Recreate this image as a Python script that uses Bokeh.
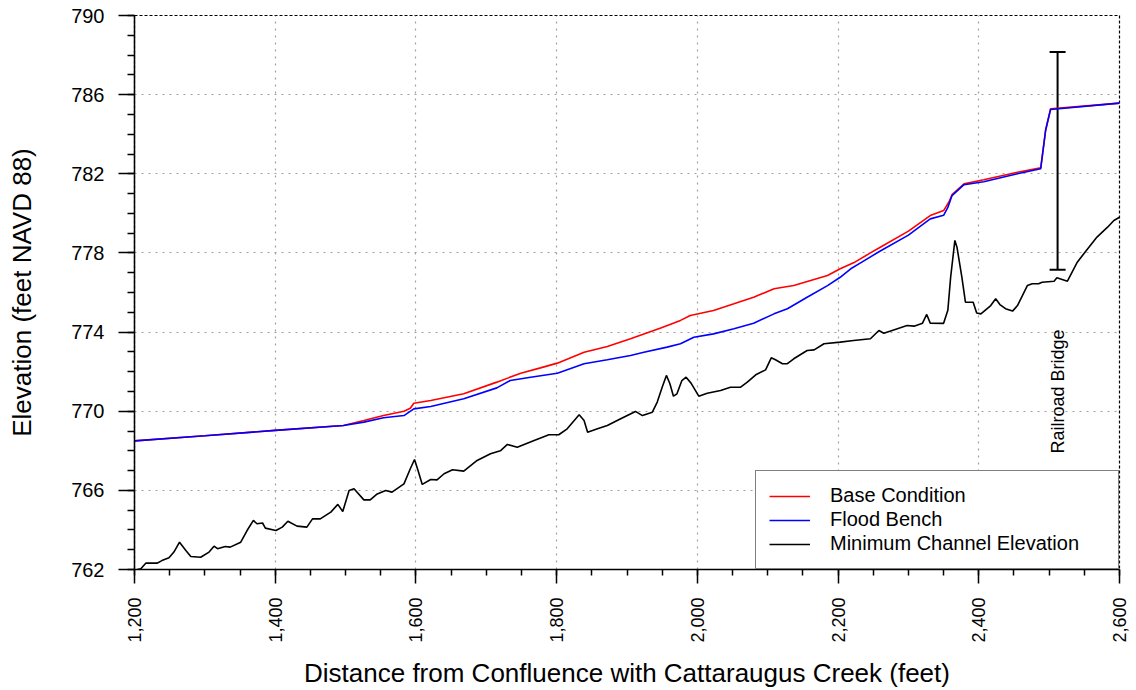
from math import pi

from bokeh.plotting import figure
from bokeh.models import (Range1d, FixedTicker, NumeralTickFormatter, Legend, LegendItem,
                          Whisker, TeeHead, ColumnDataSource)
from bokeh.core.properties import value
from bokeh.embed import file_html
from bokeh.resources import INLINE

# Water-surface profiles (feet from confluence, elevation in feet NAVD 88)
base_x = [1200, 1300, 1400, 1497, 1526, 1554, 1583, 1592, 1597, 1621, 1668, 1715, 1749, 1777,
          1801, 1839, 1872, 1905, 1948, 1976, 1990, 2023, 2052, 2080, 2109, 2137, 2161, 2185,
          2203, 2222, 2246, 2260, 2300, 2331, 2350, 2358, 2362, 2379, 2407, 2455, 2488, 2495,
          2502, 2600]
base_y = [768.50, 768.76, 769.03, 769.28, 769.53, 769.78, 770.00, 770.15, 770.40, 770.54, 770.88,
          771.47, 771.92, 772.19, 772.43, 772.98, 773.27, 773.66, 774.20, 774.59, 774.84, 775.09,
          775.43, 775.76, 776.19, 776.35, 776.61, 776.86, 777.20, 777.50, 778.00, 778.29, 779.10,
          779.89, 780.14, 780.60, 780.95, 781.49, 781.70, 782.08, 782.30, 784.20, 785.28, 785.57]

bench_x = [1200, 1300, 1400, 1497, 1526, 1554, 1583, 1597, 1621, 1668, 1715, 1734, 1763, 1801,
           1839, 1872, 1905, 1924, 1957, 1976, 1995, 2023, 2052, 2080, 2109, 2128, 2156, 2185,
           2203, 2218, 2232, 2260, 2300, 2331, 2350, 2356, 2362, 2379, 2407, 2455, 2488, 2495,
           2502, 2600]
bench_y = [768.50, 768.76, 769.03, 769.28, 769.45, 769.67, 769.78, 770.12, 770.24, 770.63, 771.18,
           771.55, 771.72, 771.92, 772.40, 772.60, 772.82, 772.98, 773.24, 773.41, 773.74, 773.91,
           774.17, 774.45, 774.92, 775.18, 775.76, 776.35, 776.77, 777.20, 777.50, 778.10, 778.90,
           779.72, 779.90, 780.30, 780.90, 781.45, 781.60, 782.00, 782.25, 784.20, 785.25, 785.57]

# Thalweg (minimum channel elevation)
channel_x = [1204, 1209, 1216, 1232, 1239, 1249, 1256, 1264, 1273, 1280, 1294, 1306, 1313, 1318,
             1329, 1336, 1351, 1360, 1369, 1374, 1382, 1386, 1401, 1410, 1418, 1431, 1445, 1453,
             1464, 1479, 1489, 1496, 1505, 1512, 1526, 1535, 1545, 1557, 1566, 1583, 1592, 1598,
             1603, 1609, 1621, 1630, 1640, 1652, 1668, 1687, 1706, 1720, 1730, 1744, 1768, 1789,
             1803, 1815, 1832, 1839, 1844, 1858, 1872, 1891, 1912, 1922, 1936, 1943, 1950, 1956,
             1961, 1966, 1971, 1978, 1984, 1991, 2002, 2014, 2033, 2047, 2061, 2071, 2083, 2097,
             2105, 2111, 2121, 2128, 2137, 2156, 2166, 2180, 2203, 2222, 2246, 2258, 2265, 2279,
             2298, 2308, 2320, 2326, 2331, 2350, 2356, 2360, 2366, 2369, 2376, 2381, 2392, 2397,
             2403, 2417, 2424, 2430, 2438, 2448, 2455, 2469, 2476, 2485, 2490, 2507, 2511, 2526,
             2540, 2549, 2568, 2583, 2592, 2600]
channel_y = [762.00, 762.04, 762.32, 762.32, 762.45, 762.59, 762.88, 763.38, 762.96, 762.66, 762.62,
             762.88, 763.18, 763.05, 763.16, 763.13, 763.38, 763.97, 764.48, 764.31, 764.35, 764.09,
             763.97, 764.14, 764.44, 764.19, 764.14, 764.56, 764.56, 764.90, 765.29, 764.93, 765.99,
             766.08, 765.52, 765.52, 765.82, 765.99, 765.91, 766.33, 767.09, 767.56, 767.00, 766.30,
             766.55, 766.53, 766.84, 767.04, 766.97, 767.51, 767.85, 768.00, 768.32, 768.18, 768.52,
             768.81, 768.81, 769.11, 769.82, 769.53, 768.94, 769.11, 769.28, 769.62, 769.99, 769.78,
             769.95, 770.46, 771.21, 771.81, 771.39, 770.76, 770.88, 771.55, 771.72, 771.42, 770.76,
             770.91, 771.05, 771.21, 771.21, 771.47, 771.84, 772.09, 772.70, 772.60, 772.40, 772.40,
             772.65, 773.07, 773.10, 773.41, 773.49, 773.57, 773.66, 774.08, 773.94, 774.11, 774.33,
             774.30, 774.45, 774.89, 774.45, 774.44, 775.10, 776.77, 778.63, 778.29, 776.77, 775.51,
             775.51, 774.96, 774.92, 775.34, 775.68, 775.39, 775.18, 775.06, 775.34, 776.35, 776.44,
             776.44, 776.52, 776.57, 776.74, 776.57, 777.53, 777.95, 778.80, 779.30, 779.64, 779.80]

# Railroad bridge (low chord to top of deck) and its label
bridge_x = [2512]
bridge_low = [777.15]
bridge_high = [788.15]
bridge_label_y = [771.0]
bridge_label = ["Railroad Bridge"]

y_major = [762, 766, 770, 774, 778, 782, 786, 790]
y_minor = list(range(762, 791))
x_major = [1200, 1400, 1600, 1800, 2000, 2200, 2400, 2600]
x_minor = list(range(1200, 2601, 50))

FONT = "Liberation Sans"

p = figure(width=1136, height=690, output_backend="svg", toolbar_location=None,
           x_range=Range1d(1200, 2600), y_range=Range1d(762, 790),
           min_border_left=134, min_border_right=17, min_border_top=15, min_border_bottom=121)
p.background_fill_color = "white"
p.border_fill_color = "white"
p.outline_line_color = "black"
p.outline_line_width = 1.2
p.outline_line_dash = "3 2"

# Axes
for ax in (p.xaxis[0], p.yaxis[0]):
    ax.axis_line_color = "black"
    ax.axis_line_width = 1.5
    ax.major_tick_line_color = "black"
    ax.major_tick_line_width = 1.5
    ax.minor_tick_line_color = "black"
    ax.minor_tick_line_width = 1.5
    ax.major_tick_in = 0
    ax.minor_tick_in = 0
    ax.major_label_text_font = FONT
    ax.major_label_text_color = "black"
    ax.axis_label_text_font = FONT
    ax.axis_label_text_font_style = "normal"
    ax.axis_label_text_color = "black"
    ax.axis_label_text_font_size = "26px"

p.yaxis.ticker = FixedTicker(ticks=y_major, minor_ticks=y_minor)
p.yaxis.major_tick_out = 16
p.yaxis.minor_tick_out = 7
p.yaxis.major_label_text_font_size = "20px"
p.yaxis.major_label_standoff = 14
p.yaxis.axis_label = "Elevation (feet NAVD 88)"
p.yaxis.axis_label_standoff = 31

p.xaxis.ticker = FixedTicker(ticks=x_major, minor_ticks=x_minor)
p.xaxis.formatter = NumeralTickFormatter(format="0,0")
p.xaxis.major_tick_out = 14
p.xaxis.minor_tick_out = 6
p.xaxis.major_label_text_font_size = "18px"
p.xaxis.major_label_orientation = pi / 2
p.xaxis.major_label_standoff = 14
p.xaxis.axis_label = "Distance from Confluence with Cattaraugus Creek (feet)"
p.xaxis.axis_label_standoff = 12

# Dotted grid
for g in (p.xgrid[0], p.ygrid[0]):
    g.grid_line_color = "#a0a0a0"
    g.grid_line_width = 1.2
    g.grid_line_dash = "2 5"

# Profiles
r_chan = p.line(channel_x, channel_y, line_color="black", line_width=1.6)
r_base = p.line(base_x, base_y, line_color="#ff0000", line_width=1.6)
r_bench = p.line(bench_x, bench_y, line_color="#0000ff", line_width=1.6)

# Railroad bridge span marker
bsrc = ColumnDataSource(dict(x=bridge_x, lower=bridge_low, upper=bridge_high))
p.add_layout(Whisker(source=bsrc, base="x", lower="lower", upper="upper", dimension="height",
                     line_color="black", line_width=2,
                     upper_head=TeeHead(size=16, line_color="black", line_width=2),
                     lower_head=TeeHead(size=16, line_color="black", line_width=2)))
p.text(x=bridge_x, y=bridge_label_y, text=bridge_label, angle=pi / 2,
       text_align="center", text_baseline="alphabetic",
       text_font=value(FONT), text_font_size="18px", text_color="black")

legend = Legend(items=[LegendItem(label="Base Condition", renderers=[r_base]),
                       LegendItem(label="Flood Bench", renderers=[r_bench]),
                       LegendItem(label="Minimum Channel Elevation", renderers=[r_chan])],
                location="bottom_right", margin=0, padding=13, spacing=1,
                label_text_font=FONT, label_text_font_size="20px", label_text_color="black",
                glyph_width=41, glyph_height=22, label_height=22, label_standoff=20,
                label_width=275,
                border_line_color="black", border_line_width=1.2,
                background_fill_color="white", background_fill_alpha=1.0)
p.add_layout(legend)

open("out.html", "w").write(file_html(p, INLINE))
